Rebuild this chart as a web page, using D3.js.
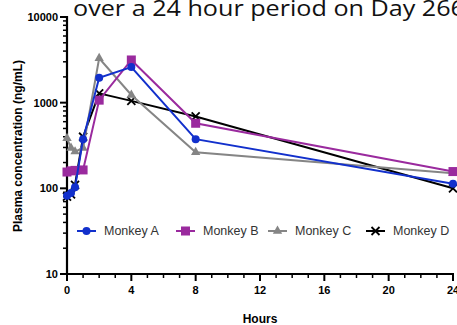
<!DOCTYPE html>
<html>
<head>
<meta charset="utf-8">
<script src="https://cdn.jsdelivr.net/npm/d3@7"></script>
<style>
  html, body { margin: 0; padding: 0; background: #fff; overflow: hidden; }
  svg { display: block; }
</style>
</head>
<body>
<div id="chart"></div>
<script>
// sampling times (hours)
var hours = [0, 0.25, 0.5, 1, 2, 4, 8, 24];
// plasma concentration (ng/mL) per animal
var monkeyA = [82, 88, 103, 375, 1950, 2600, 375, 113];
var monkeyB = [155, 160, 162, 164, 1070, 3150, 575, 157];
var monkeyC = [384, 296, 268, 296, 3300, 1230, 264, 150];
var monkeyD = [80, 85, 110, 400, 1285, 1050, 690, 100];
var seriesNames = ["Monkey A", "Monkey B", "Monkey C", "Monkey D"];
var xTicks = [0, 4, 8, 12, 16, 20, 24];
var yTicks = [10, 100, 1000, 10000];

var width = 457, height = 325;
var colors = ["#1230cc", "#9a2a9e", "#858585", "#000000"];
var symbols = ["circle", "square", "triangle", "cross"];

var svg = d3.select("#chart").append("svg")
    .attr("width", width)
    .attr("height", height);

var x = d3.scaleLinear().domain([0, 24]).range([67, 453]);
var y = d3.scaleLog().domain([10, 10000]).range([274, 17]);

// cropped slide title
svg.append("text")
    .attr("x", 73)
    .attr("y", 15.5)
    .attr("textLength", 392)
    .attr("lengthAdjust", "spacingAndGlyphs")
    .style("font-family", "'Open Sans', 'Noto Sans', sans-serif")
    .style("font-size", "22px")
    .style("fill", "#111")
    .text("over a 24 hour period on Day 266");

// axes
var minorY = [];
[10, 100, 1000].forEach(function (d) {
    for (var k = 2; k <= 9; k++) minorY.push(d * k);
});
var yAxis = svg.append("g").attr("transform", "translate(" + x(0) + ",0)");
yAxis.selectAll(".minor").data(minorY).enter().append("line")
    .attr("x1", -4).attr("x2", 0)
    .attr("y1", function (d) { return y(d); })
    .attr("y2", function (d) { return y(d); })
    .attr("stroke", "#000").attr("stroke-width", 1.5);
yAxis.selectAll(".major").data(yTicks).enter().append("line")
    .attr("x1", -7).attr("x2", 0)
    .attr("y1", function (d) { return y(d); })
    .attr("y2", function (d) { return y(d); })
    .attr("stroke", "#000").attr("stroke-width", 2);
yAxis.append("line")
    .attr("x1", 0).attr("x2", 0)
    .attr("y1", y(10) + 1).attr("y2", y(10000) - 1)
    .attr("stroke", "#000").attr("stroke-width", 2.2);
yAxis.selectAll(".lbl").data(yTicks).enter().append("text")
    .attr("x", -9)
    .attr("y", function (d) { return y(d); })
    .attr("dy", "0.35em")
    .attr("text-anchor", "end")
    .style("font-family", "'Liberation Sans', Arial, sans-serif")
    .style("font-weight", "bold")
    .style("font-size", "11px")
    .text(function (d) { return d; });

var minorX = d3.range(0, 25, 1);
var xAxis = svg.append("g").attr("transform", "translate(0," + y(10) + ")");
xAxis.selectAll(".minor").data(minorX).enter().append("line")
    .attr("x1", function (d) { return x(d); })
    .attr("x2", function (d) { return x(d); })
    .attr("y1", 0).attr("y2", function (d) { return d % 4 === 0 ? 7 : 4; })
    .attr("stroke", "#000").attr("stroke-width", function (d) { return d % 4 === 0 ? 2 : 1.5; });
xAxis.append("line")
    .attr("x1", x(0) - 1).attr("x2", x(24) + 1)
    .attr("y1", 0).attr("y2", 0)
    .attr("stroke", "#000").attr("stroke-width", 2.2);
xAxis.selectAll(".lbl").data(xTicks).enter().append("text")
    .attr("x", function (d) { return x(d); })
    .attr("y", 20)
    .attr("text-anchor", "middle")
    .style("font-family", "'Liberation Sans', Arial, sans-serif")
    .style("font-weight", "bold")
    .style("font-size", "11px")
    .text(function (d) { return d; });

svg.append("text")
    .attr("x", (x(0) + x(24)) / 2)
    .attr("y", 323)
    .attr("text-anchor", "middle")
    .style("font-family", "'Liberation Sans', Arial, sans-serif")
    .style("font-weight", "bold")
    .style("font-size", "12px")
    .text("Hours");

svg.append("text")
    .attr("transform", "translate(22,146) rotate(-90)")
    .attr("text-anchor", "middle")
    .style("font-family", "'Liberation Sans', Arial, sans-serif")
    .style("font-weight", "bold")
    .style("font-size", "12px")
    .text("Plasma concentration (ng/mL)");

// markers
function drawMarker(g, type, color) {
    if (type === "circle") {
        g.append("circle").attr("r", 4).attr("fill", color);
    } else if (type === "square") {
        g.append("rect").attr("x", -4.5).attr("y", -4.5).attr("width", 9).attr("height", 9).attr("fill", color);
    } else if (type === "triangle") {
        g.append("path").attr("d", d3.symbol().type(d3.symbolTriangle).size(38)()).attr("fill", color);
    } else {
        g.append("path").attr("d", "M-4,-4L4,4M-4,4L4,-4")
            .attr("stroke", color).attr("stroke-width", 1.8).attr("fill", "none");
    }
}

var allSeries = [monkeyA, monkeyB, monkeyC, monkeyD];
var line = d3.line()
    .x(function (d) { return x(d[0]); })
    .y(function (d) { return y(d[1]); });

// draw D first so A ends on top
for (var s = allSeries.length - 1; s >= 0; s--) {
    var pts = hours.map(function (h, i) { return [h, allSeries[s][i]]; });
    var g = svg.append("g");
    g.append("path")
        .attr("d", line(pts))
        .attr("fill", "none")
        .attr("stroke", colors[s])
        .attr("stroke-width", 2);
    pts.forEach(function (p) {
        var m = g.append("g").attr("transform", "translate(" + x(p[0]) + "," + y(p[1]) + ")");
        drawMarker(m, symbols[s], colors[s]);
    });
}

// legend
var legendX = [77, 176, 268, 366];
var legendY = 231;
seriesNames.forEach(function (name, i) {
    var lg = svg.append("g").attr("transform", "translate(" + legendX[i] + "," + legendY + ")");
    lg.append("line").attr("x1", 0).attr("x2", 19).attr("y1", 0).attr("y2", 0)
        .attr("stroke", colors[i]).attr("stroke-width", 2);
    var m = lg.append("g").attr("transform", "translate(9.5,0)");
    drawMarker(m, symbols[i], colors[i]);
    lg.append("text")
        .attr("x", 27)
        .attr("dy", "0.35em")
        .style("font-family", "'Liberation Sans', Arial, sans-serif")
        .style("font-size", "12.5px")
        .style("fill", "#333")
        .text(name);
});
</script>
</body>
</html>
